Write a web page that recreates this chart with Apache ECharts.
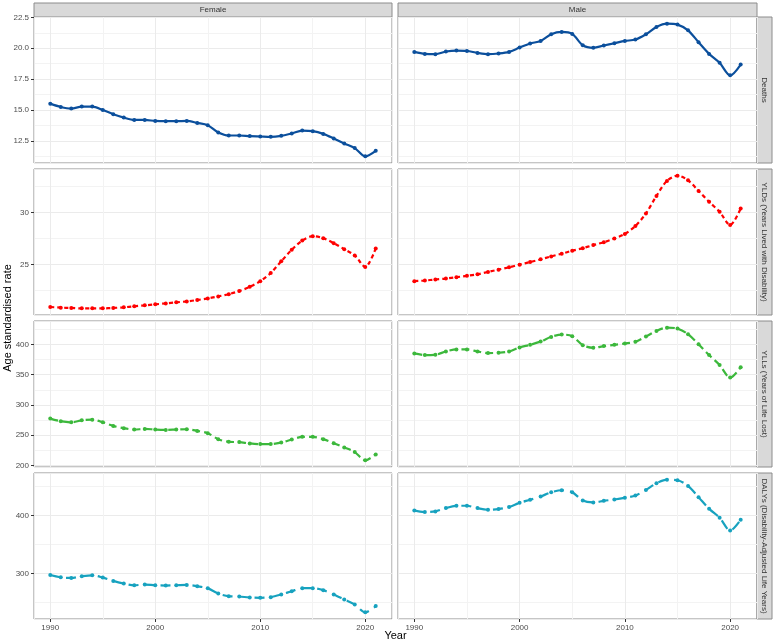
<!DOCTYPE html>
<html>
<head>
<meta charset="utf-8">
<script src="https://cdn.jsdelivr.net/npm/echarts@6/dist/echarts.min.js"></script>
<style>
  html, body { margin: 0; padding: 0; background: #fff; }
  #chart { width: 775px; height: 643px; }
</style>
</head>
<body>
<div id="chart"></div>
<script>
const years = [1990, 1991, 1992, 1993, 1994, 1995, 1996, 1997, 1998, 1999, 2000, 2001, 2002, 2003, 2004, 2005,
  2006, 2007, 2008, 2009, 2010, 2011, 2012, 2013, 2014, 2015, 2016, 2017, 2018, 2019, 2020, 2021];

const deathsFemale = [15.51, 15.24, 15.11, 15.27, 15.27, 15.0, 14.65, 14.38, 14.19, 14.19, 14.11, 14.09, 14.09, 14.11, 13.95, 13.76,
  13.17, 12.93, 12.93, 12.88, 12.85, 12.82, 12.9, 13.09, 13.33, 13.28, 13.06, 12.69, 12.28, 11.91, 11.24, 11.69];
const deathsMale = [19.7, 19.54, 19.52, 19.73, 19.81, 19.78, 19.62, 19.52, 19.57, 19.7, 20.05, 20.38, 20.59, 21.13, 21.32, 21.16,
  20.24, 20.03, 20.22, 20.4, 20.59, 20.7, 21.13, 21.72, 21.99, 21.91, 21.45, 20.48, 19.54, 18.82, 17.8, 18.68];

const yldsFemale = [20.89, 20.83, 20.8, 20.76, 20.76, 20.76, 20.8, 20.86, 20.96, 21.05, 21.15, 21.24, 21.34, 21.43, 21.56, 21.72,
  21.91, 22.13, 22.42, 22.83, 23.38, 24.17, 25.29, 26.4, 27.29, 27.71, 27.52, 27.04, 26.46, 25.86, 24.75, 26.53];
const yldsMale = [23.38, 23.44, 23.54, 23.63, 23.76, 23.89, 24.04, 24.27, 24.49, 24.71, 24.97, 25.22, 25.48, 25.76, 26.02, 26.31,
  26.56, 26.85, 27.13, 27.48, 27.93, 28.69, 29.9, 31.59, 33.03, 33.54, 33.09, 32.07, 31.02, 30.06, 28.79, 30.38];

const yllsFemale = [277.3, 272.9, 271.2, 274.5, 275.6, 271.2, 265.2, 261.4, 259.2, 260.3, 259.2, 258.6, 259.2, 259.7, 257.0, 253.2,
  243.3, 238.9, 238.4, 236.2, 235.1, 235.1, 237.8, 242.7, 247.1, 247.1, 243.3, 236.7, 229.6, 221.9, 208.2, 218.1];
const yllsMale = [385.2, 382.5, 383.0, 388.5, 391.8, 391.8, 388.5, 385.8, 386.3, 388.5, 395.1, 399.5, 404.9, 412.6, 416.4, 413.7,
  398.9, 394.5, 397.3, 399.5, 401.6, 404.4, 413.2, 422.5, 427.9, 426.3, 417.0, 400.5, 382.5, 366.0, 345.2, 362.2];

const dalysFemale = [297.1, 293.1, 292.0, 294.9, 296.6, 292.6, 286.9, 282.3, 279.4, 280.6, 279.4, 278.9, 279.4, 280.0, 277.7, 274.3,
  265.1, 260.6, 260.0, 258.3, 257.7, 258.9, 263.4, 269.1, 274.3, 274.3, 270.9, 263.4, 254.9, 246.3, 232.6, 243.4];
const dalysMale = [408.6, 405.7, 406.9, 412.6, 416.6, 416.6, 412.6, 409.7, 410.9, 414.3, 421.7, 426.9, 432.6, 440.0, 443.4, 440.0,
  425.7, 422.3, 425.1, 427.4, 430.3, 434.3, 444.0, 455.4, 461.7, 460.6, 450.9, 431.4, 411.4, 396.0, 373.7, 392.6];

const sexes = ["Female", "Male"];
const measures = ["Deaths", "YLDs (Years Lived with Disability)", "YLLs (Years of Life Lost)", "DALYs (Disability-Adjusted Life Years)"];
const measureSeries = [
  [deathsFemale, deathsMale],
  [yldsFemale, yldsMale],
  [yllsFemale, yllsMale],
  [dalysFemale, dalysMale],
];
const yTickSteps = [2.5, 5, 50, 100];
const xTickStep = 10;

const lineColors = ["#0B4F9C", "#FF0000", "#3CB83C", "#17A2BF"];
const lineDashes = ["solid", [4, 3], [8, 4], [10, 6]];

// facet layout (px)
const panelLefts = [34, 398];
const panelWidths = [358, 359];
const panelTops = [17, 169, 321, 473];
const panelHeight = 146;
const stripSize = 14;
const fontFamily = "Liberation Sans, Arial, sans-serif";

function paddedRange(values) {
  const min = Math.min(...values);
  const max = Math.max(...values);
  const pad = (max - min) * 0.05;
  return { min: min - pad, max: max + pad };
}

function labelText(text, x, y, rotation, size, color) {
  return {
    type: "text",
    x,
    y,
    rotation,
    style: { text, align: "center", verticalAlign: "middle", fill: color, fontSize: size, fontFamily },
  };
}

function buildOption() {
  const grid = [];
  const xAxis = [];
  const yAxis = [];
  const series = [];
  const graphic = [];
  const xRange = paddedRange(years);

  measures.forEach((measure, r) => {
    const yRange = paddedRange(measureSeries[r][0].concat(measureSeries[r][1]));
    sexes.forEach((sex, c) => {
      const i = r * 2 + c;
      grid.push({
        left: panelLefts[c],
        top: panelTops[r],
        width: panelWidths[c],
        height: panelHeight,
        show: true,
        borderColor: "#8C8C8C",
        borderWidth: 1,
        backgroundColor: "#fff",
      });
      xAxis.push({
        gridIndex: i,
        type: "value",
        min: xRange.min,
        max: xRange.max,
        minInterval: xTickStep,
        maxInterval: xTickStep,
        axisLine: { show: false },
        axisTick: { show: r === 3, length: 3, lineStyle: { color: "#333" } },
        axisLabel: {
          show: r === 3,
          showMinLabel: false,
          showMaxLabel: false,
          color: "#4D4D4D",
          fontSize: 8,
          margin: 5,
          formatter: (v) => String(Math.round(v)),
        },
        splitLine: { lineStyle: { color: "#EBEBEB", width: 1 } },
        minorTick: { show: false, splitNumber: 2 },
        minorSplitLine: { show: true, lineStyle: { color: "#F3F3F3", width: 1 } },
      });
      yAxis.push({
        gridIndex: i,
        type: "value",
        min: yRange.min,
        max: yRange.max,
        minInterval: yTickSteps[r],
        maxInterval: yTickSteps[r],
        axisLine: { show: false },
        axisTick: { show: c === 0, length: 3, lineStyle: { color: "#333" } },
        axisLabel: {
          show: c === 0,
          showMinLabel: false,
          showMaxLabel: false,
          color: "#4D4D4D",
          fontSize: 8,
          margin: 5,
          formatter: (v) => (r === 0 ? v.toFixed(1) : String(Math.round(v))),
        },
        splitLine: { lineStyle: { color: "#EBEBEB", width: 1 } },
        minorTick: { show: false, splitNumber: 2 },
        minorSplitLine: { show: true, lineStyle: { color: "#F3F3F3", width: 1 } },
      });
      series.push({
        name: `${sex} ${measure}`,
        type: "line",
        xAxisIndex: i,
        yAxisIndex: i,
        smooth: 0.3,
        symbol: "circle",
        symbolSize: 4,
        itemStyle: { color: lineColors[r] },
        lineStyle: { color: lineColors[r], width: 2.2, type: lineDashes[r] },
        data: years.map((y, k) => [y, measureSeries[r][c][k]]),
      });
    });

    // row strip on the right
    const stripX = panelLefts[1] + panelWidths[1];
    graphic.push({
      type: "rect",
      shape: { x: stripX, y: panelTops[r], width: stripSize + 1, height: panelHeight },
      style: { fill: "#D9D9D9", stroke: "#8C8C8C", lineWidth: 1 },
    });
    graphic.push(labelText(measure, stripX + (stripSize + 1) / 2, panelTops[r] + panelHeight / 2, -Math.PI / 2, 8, "#333"));
  });

  sexes.forEach((sex, c) => {
    graphic.push({
      type: "rect",
      shape: { x: panelLefts[c], y: panelTops[0] - stripSize, width: panelWidths[c], height: stripSize },
      style: { fill: "#D9D9D9", stroke: "#8C8C8C", lineWidth: 1 },
    });
    graphic.push(labelText(sex, panelLefts[c] + panelWidths[c] / 2, panelTops[0] - stripSize / 2, 0, 8, "#333"));
  });

  graphic.push(labelText("Age standardised rate", 8, (panelTops[0] + panelTops[3] + panelHeight) / 2, Math.PI / 2, 11, "#000"));
  graphic.push(labelText("Year", (panelLefts[0] + panelLefts[1] + panelWidths[1]) / 2, 636, 0, 11, "#000"));

  return {
    animation: false,
    backgroundColor: "#fff",
    textStyle: { fontFamily },
    grid,
    xAxis,
    yAxis,
    series,
    graphic,
  };
}

document.addEventListener("DOMContentLoaded", () => {
  const chart = echarts.init(document.getElementById("chart"));
  chart.setOption(buildOption());
});
</script>
</body>
</html>
